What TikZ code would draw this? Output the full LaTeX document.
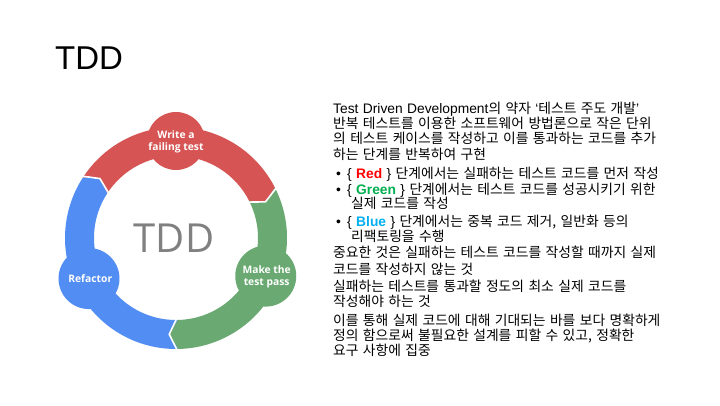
\documentclass[tikz,border=0pt]{standalone}
\usepackage{fontspec}
\setmainfont{Noto Sans CJK KR}
\newfontfamily\latf{Liberation Sans}
\newfontfamily\opens{Open Sans}
\newcommand\ksetfont{\fontsize{13.8}{16}\selectfont\spaceskip 4.4pt\relax}
\definecolor{ringred}{RGB}{214,84,84}
\definecolor{ringgreen}{RGB}{106,170,114}
\definecolor{ringblue}{RGB}{82,141,243}
\definecolor{tddgray}{RGB}{128,128,128}
\definecolor{redtxt}{RGB}{255,0,0}
\definecolor{greentxt}{RGB}{0,176,80}
\definecolor{bluetxt}{RGB}{0,176,240}
\begin{document}
\begin{tikzpicture}[x=1pt,y=1pt,
  txt/.style={anchor=base west, inner sep=0pt, font=\ksetfont},
  lbl/.style={text=white, font=\opens\bfseries\fontsize{10.3}{12}\selectfont, align=center, inner sep=0pt},
  gapline/.style={draw=white, line width=1.6pt, line join=miter}]
\fill[white] (0,0) rectangle (720,405);
\path[use as bounding box] (0,0) rectangle (720,405);
\node[anchor=base west, inner sep=0pt, font=\latf\fontsize{33}{40}\selectfont] (title) at (55,335) {TDD};

\begin{scope}[shift={(176,167)}]
\def\Ro{111}\def\Ri{82}\def\Rm{96.5}
\fill[ringred] (147:\Ro) arc[start angle=147,end angle=27,radius=\Ro] -- (22:\Rm) -- (27:\Ri) arc[start angle=27,end angle=147,radius=\Ri] -- (142:\Rm) -- cycle;
\fill[ringgreen] (27:\Ro) arc[start angle=27,end angle=-89,radius=\Ro] -- (-94:\Rm) -- (-89:\Ri) arc[start angle=-89,end angle=27,radius=\Ri] -- (22:\Rm) -- cycle;
\fill[ringblue] (271:\Ro) arc[start angle=271,end angle=147,radius=\Ro] -- (142:\Rm) -- (147:\Ri) arc[start angle=147,end angle=271,radius=\Ri] -- (266:\Rm) -- cycle;
\fill[ringred] (90:97) circle[radius=29];
\fill[ringgreen] (-23:97.5) circle[radius=30.5];
\fill[ringblue] (205:96) circle[radius=30.5];
\draw[gapline] (27:114) -- (22:\Rm) -- (27:79);
\draw[gapline] (-89:114) -- (-94:\Rm) -- (-89:79);
\draw[gapline] (147:114) -- (142:\Rm) -- (147:79);
\node[lbl] (wr) at (90:96.5) {Write a\\failing test};
\node[lbl] (mk) at (-23:98.5) {Make the\\test pass};
\node[lbl] (rf) at (205.5:95) {Refactor};
\node[font=\opens\fontsize{40}{46}\selectfont, text=tddgray, inner sep=0pt] (tdd) at (-2,0) {TDD};
\end{scope}

\node[txt] (l1) at (333,291.5) {{\latf Test Driven Development}의 약자 {\latf ‘}테스트 주도 개발{\latf ’}};
\node[txt] (l2) at (333,276.7) {반복 테스트를 이용한 소프트웨어 방법론으로 작은 단위};
\node[txt] (l3) at (333,261.3) {의 테스트 케이스를 작성하고 이를 통과하는 코드를 추가};
\node[txt] (l4) at (333,245.7) {하는 단계를 반복하여 구현};
\node[txt] (b1) at (336,226.7) {\latf •};
\node[txt] (l5) at (347,226.7) {{\latf \{ {\color{redtxt}\bfseries Red} \}} 단계에서는 실패하는 테스트 코드를 먼저 작성};
\node[txt] (b2) at (336,210.7) {\latf •};
\node[txt] (l6) at (347,210.7) {{\latf \{ {\color{greentxt}\bfseries Green} \}} 단계에서는 테스트 코드를 성공시키기 위한};
\node[txt] (l7) at (351,197) {실제 코드를 작성};
\node[txt] (b3) at (336,178.3) {\latf •};
\node[txt] (l8) at (347,178.3) {{\latf \{ {\color{bluetxt}\bfseries Blue} \}} 단계에서는 중복 코드 제거, 일반화 등의};
\node[txt] (l9) at (351,163.3) {리팩토링을 수행};
\node[txt] (l10) at (333,147.5) {중요한 것은 실패하는 테스트 코드를 작성할 때까지 실제};
\node[txt] (l11) at (333,130.5) {코드를 작성하지 않는 것};
\node[txt] (l12) at (333,113.5) {실패하는 테스트를 통과할 정도의 최소 실제 코드를};
\node[txt] (l13) at (333,98.5) {작성해야 하는 것};
\node[txt] (l14) at (333,80) {이를 통해 실제 코드에 대해 기대되는 바를 보다 명확하게};
\node[txt] (l15) at (333,65) {정의 함으로써 불필요한 설계를 피할 수 있고, 정확한};
\node[txt] (l16) at (333,50) {요구 사항에 집중};
\end{tikzpicture}
\end{document}
